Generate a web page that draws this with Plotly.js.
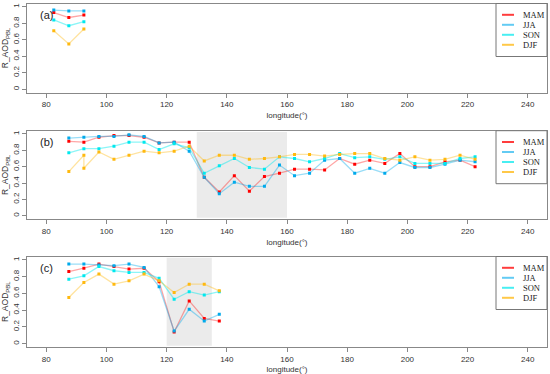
<!DOCTYPE html>
<html>
<head>
<meta charset="utf-8">
<script src="https://cdn.plot.ly/plotly-3.0.1.min.js"></script>
<style>html,body{margin:0;padding:0;background:#fff;}#chart{width:550px;height:374px;}</style>
</head>
<body>
<div id="chart"></div>
<script>
// ---------- data ----------
const seasons = ['MAM', 'JJA', 'SON', 'DJF'];
const xTicks = [80, 100, 120, 140, 160, 180, 200, 220, 240];
const yTicks = [0, 0.2, 0.4, 0.6, 0.8, 1];
const yTickText = ['0', '0.2', '0.4', '0.6', '0.8', '1'];
const panelLabels = ['(a)', '(b)', '(c)'];

// panel (a)
const lon_a = [82.5, 87.5, 92.5];
const MAM_a = [0.93, 0.87, 0.90];
const JJA_a = [0.96, 0.95, 0.95];
const SON_a = [0.84, 0.77, 0.82];
const DJF_a = [0.71, 0.55, 0.73];

// panel (b)
const lon_b = [87.5, 92.5, 97.5, 102.5, 107.5, 112.5, 117.5, 122.5, 127.5, 132.5, 137.5, 142.5, 147.5, 152.5,
               157.5, 162.5, 167.5, 172.5, 177.5, 182.5, 187.5, 192.5, 197.5, 202.5, 207.5, 212.5, 217.5, 222.5];
const MAM_b = [0.91, 0.90, 0.96, 0.98, 0.98, 0.96, 0.89, 0.90, 0.90, 0.47, 0.29, 0.49, 0.30, 0.48,
               0.52, 0.57, 0.57, 0.56, 0.70, 0.63, 0.68, 0.64, 0.76, 0.60, 0.60, 0.66, 0.68, 0.60];
const JJA_b = [0.95, 0.96, 0.97, 0.97, 0.99, 0.97, 0.89, 0.90, 0.79, 0.47, 0.27, 0.41, 0.36, 0.36,
               0.62, 0.49, 0.52, 0.68, 0.70, 0.52, 0.58, 0.52, 0.65, 0.59, 0.59, 0.63, 0.68, 0.66];
const SON_b = [0.77, 0.82, 0.82, 0.85, 0.90, 0.90, 0.81, 0.88, 0.83, 0.52, 0.61, 0.70, 0.59, 0.57,
               0.72, 0.70, 0.66, 0.70, 0.76, 0.71, 0.72, 0.69, 0.72, 0.64, 0.64, 0.64, 0.70, 0.72];
const lon_b_DJF = [87.5, 92.5, 92.5, 97.5, 102.5, 107.5, 112.5, 117.5, 122.5, 127.5, 132.5, 137.5, 142.5, 147.5, 152.5,
                   157.5, 162.5, 167.5, 172.5, 177.5, 182.5, 187.5, 192.5, 197.5, 202.5, 207.5, 212.5, 217.5, 222.5];
const DJF_b = [0.54, 0.74, 0.58, 0.78, 0.69, 0.74, 0.79, 0.77, 0.79, 0.85, 0.67, 0.74, 0.74, 0.69, 0.70,
               0.72, 0.75, 0.75, 0.73, 0.75, 0.76, 0.76, 0.70, 0.68, 0.72, 0.68, 0.69, 0.74, 0.69];

// panel (c)
const lon_c = [87.5, 92.5, 97.5, 102.5, 107.5, 112.5, 117.5, 122.5, 127.5, 132.5, 137.5];
const MAM_c = [0.86, 0.90, 0.95, 0.92, 0.89, 0.90, 0.74, 0.14, 0.51, 0.30, 0.27];
const JJA_c = [0.95, 0.95, 0.94, 0.93, 0.95, 0.91, 0.68, 0.15, 0.41, 0.27, 0.35];
const SON_c = [0.77, 0.81, 0.92, 0.87, 0.85, 0.85, 0.78, 0.53, 0.62, 0.58, 0.62];
const DJF_c = [0.55, 0.73, 0.83, 0.71, 0.75, 0.83, 0.75, 0.61, 0.71, 0.71, 0.63];

const shade_b = [130, 160];
const shade_c = [120, 135];

// ---------- styles ----------
const pointColors = {MAM: 'rgb(255,0,0)', JJA: 'rgb(0,170,235)', SON: 'rgb(0,232,238)', DJF: 'rgb(255,185,15)'};
const lineColors  = {MAM: 'rgba(255,0,0,0.35)', JJA: 'rgba(0,170,235,0.4)', SON: 'rgba(0,232,238,0.45)', DJF: 'rgba(255,185,15,0.4)'};
const legColors   = {MAM: 'rgba(255,40,40,0.9)', JJA: 'rgba(60,190,240,0.8)', SON: 'rgba(40,235,240,0.85)', DJF: 'rgba(255,190,40,0.85)'};

const panels = [
  {xs: {MAM: lon_a, JJA: lon_a, SON: lon_a, DJF: lon_a}, ys: {MAM: MAM_a, JJA: JJA_a, SON: SON_a, DJF: DJF_a}, top: 3.5, bottom: 92.5, shade: null},
  {xs: {MAM: lon_b, JJA: lon_b, SON: lon_b, DJF: lon_b_DJF}, ys: {MAM: MAM_b, JJA: JJA_b, SON: SON_b, DJF: DJF_b}, top: 130.7, bottom: 219, shade: shade_b},
  {xs: {MAM: lon_c, JJA: lon_c, SON: lon_c, DJF: lon_c}, ys: {MAM: MAM_c, JJA: JJA_c, SON: SON_c, DJF: DJF_c}, top: 256.5, bottom: 347, shade: shade_c}
];

const W = 550, H = 374, ML = 27, MR = 3;
const PW = W - ML - MR;
const px2x = px => (px - ML) / PW;
const py2y = py => 1 - py / H;

const traces = [];
const shapes = [];
const annotations = [];
const layout = {
  width: W, height: H,
  margin: {l: ML, r: MR, t: 0, b: 0},
  paper_bgcolor: '#fff', plot_bgcolor: 'rgba(0,0,0,0)',
  showlegend: false,
  font: {family: 'Liberation Sans, Arial, sans-serif', color: '#333'}
};

panels.forEach((p, i) => {
  const n = i === 0 ? '' : String(i + 1);
  const xa = 'x' + n, ya = 'y' + n;
  seasons.forEach(s => {
    traces.push({
      type: 'scatter', mode: 'lines+markers', name: s,
      x: p.xs[s], y: p.ys[s], xaxis: xa, yaxis: ya,
      line: {color: lineColors[s], width: 1.3},
      marker: {color: pointColors[s], size: 3, symbol: 'square'},
      showlegend: false, hoverinfo: 'x+y+name'
    });
  });
  layout['xaxis' + n] = {
    domain: [0, 1], anchor: ya, range: [73.6, 246.4],
    tickvals: xTicks, ticktext: xTicks.map(String),
    ticks: 'outside', ticklen: 4, tickcolor: '#888', tickwidth: 1,
    showline: true, linecolor: '#888', linewidth: 1, mirror: true,
    showgrid: false, zeroline: false,
    tickfont: {size: 8, color: '#333'},
    title: {text: 'longitude(°)', font: {size: 8, color: '#333'}, standoff: 4}
  };
  layout['yaxis' + n] = {
    domain: [py2y(p.bottom), py2y(p.top)], anchor: xa, range: [-0.04, 1.04],
    tickvals: yTicks, ticktext: yTickText, tickangle: -90,
    ticks: 'outside', ticklen: 4, tickcolor: '#888', tickwidth: 1,
    showline: true, linecolor: '#888', linewidth: 1, mirror: true,
    showgrid: false, zeroline: false,
    tickfont: {size: 8, color: '#333'},
    title: {text: 'R_AOD<sub>PBL</sub>', font: {size: 8.5, color: '#333'}, standoff: 2}
  };
  if (p.shade) {
    shapes.push({type: 'rect', xref: xa, yref: ya, x0: p.shade[0], x1: p.shade[1], y0: -0.025, y1: 1.025,
                 fillcolor: '#EBEBEB', line: {width: 0}, layer: 'below'});
  }
  // panel label
  annotations.push({xref: 'paper', yref: 'paper', x: px2x(46), y: py2y(p.top + 11.5), text: panelLabels[i],
                    showarrow: false, xanchor: 'center', yanchor: 'middle',
                    font: {size: 11, color: '#222', family: 'Liberation Sans, Arial, sans-serif'}});
  // legend box
  shapes.push({type: 'rect', xref: 'paper', yref: 'paper', x0: px2x(496), x1: px2x(547),
               y0: py2y(p.top + 53), y1: py2y(p.top), fillcolor: '#fff', line: {color: '#777', width: 1}});
  seasons.forEach((s, k) => {
    const yy = p.top + 11.3 + k * 10;
    shapes.push({type: 'line', xref: 'paper', yref: 'paper', x0: px2x(502), x1: px2x(514), y0: py2y(yy), y1: py2y(yy),
                 line: {color: legColors[s], width: 2}});
    annotations.push({xref: 'paper', yref: 'paper', x: px2x(520.5), y: py2y(yy), text: s, showarrow: false,
                      xanchor: 'left', yanchor: 'middle',
                      font: {size: 8.5, color: '#222', family: 'Liberation Serif, Times New Roman, serif'}});
  });
});

layout.shapes = shapes;
layout.annotations = annotations;

Plotly.newPlot('chart', traces, layout, {displayModeBar: false, staticPlot: true});
</script>
</body>
</html>
